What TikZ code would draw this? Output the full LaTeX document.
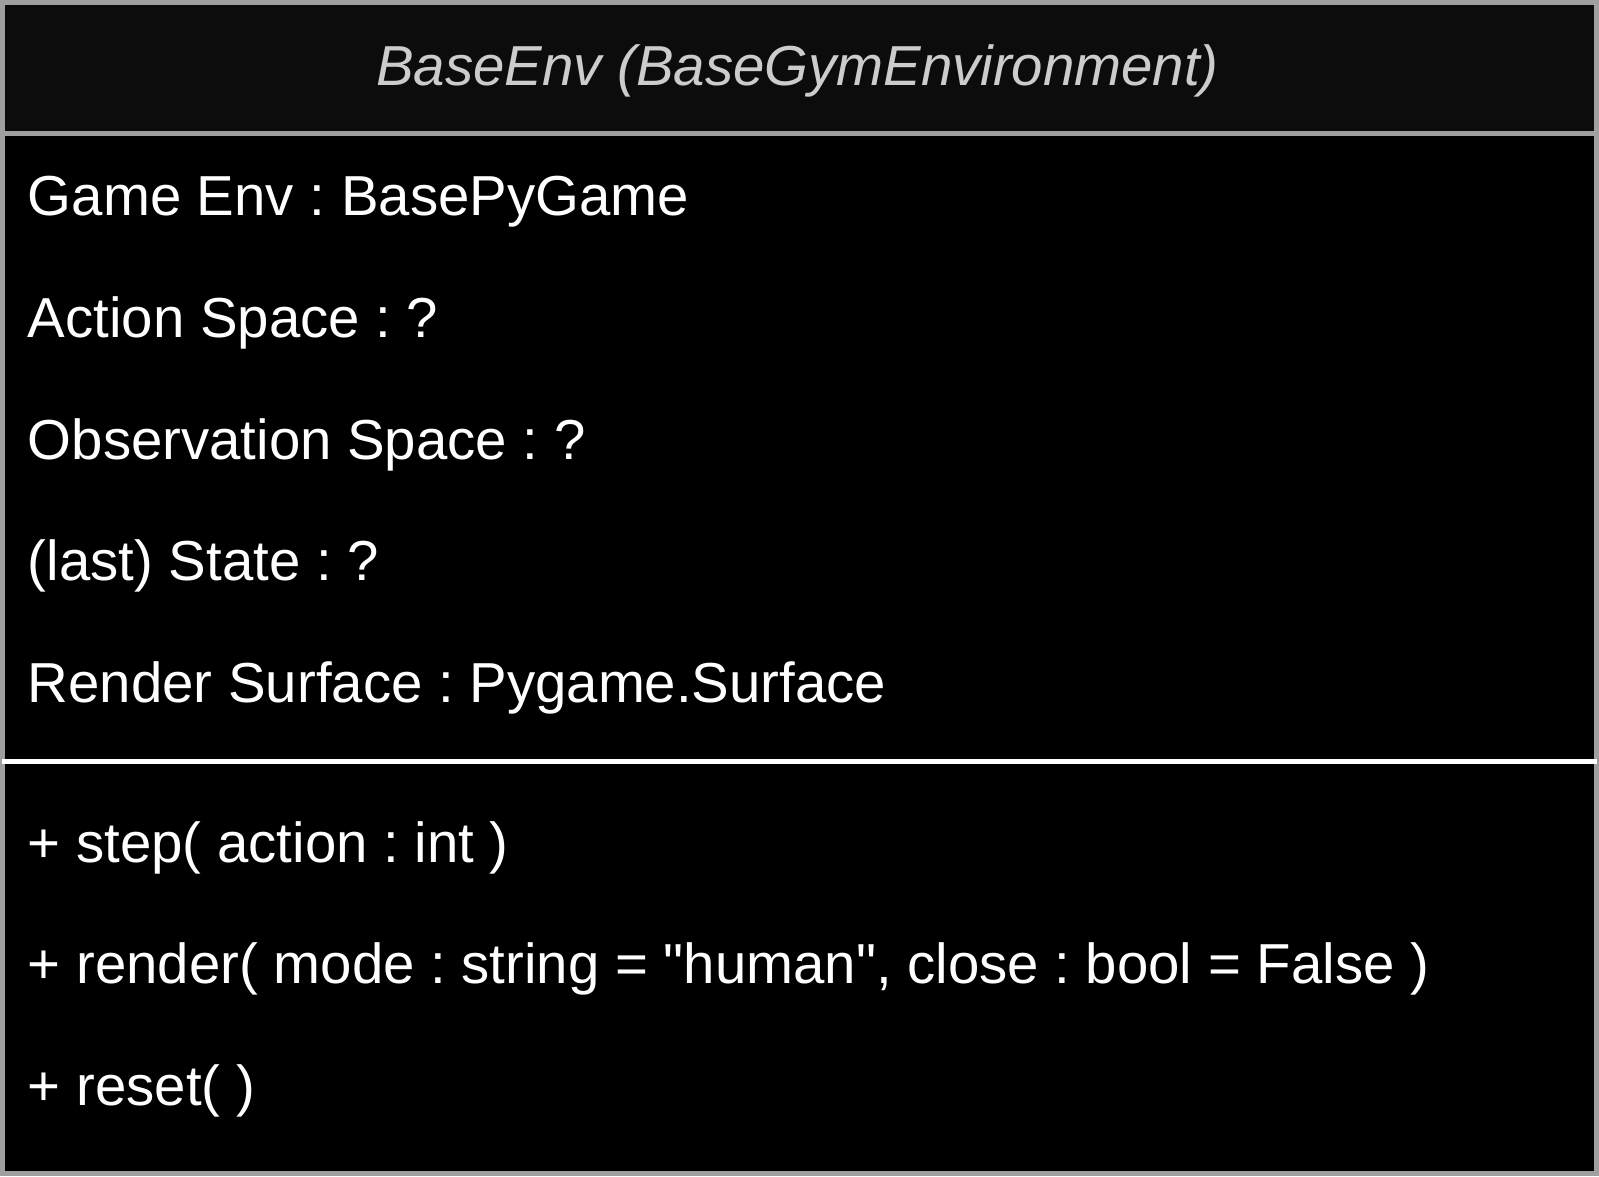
\documentclass[tikz,border=0pt]{standalone}
\usepackage{fontspec}
\setmainfont{Liberation Sans}
\usepackage{tikz}
\definecolor{framegray}{HTML}{9F9F9F}
\definecolor{headblack}{HTML}{0C0C0C}
\definecolor{headtext}{HTML}{CCCCCC}
\frenchspacing

\begin{document}
\begin{tikzpicture}[x=0.5pt,y=-0.5pt,
	member/.style={anchor=base west,inner sep=0pt,text=white,font=\fontsize{28.2}{34}\selectfont},
	classname/.style={anchor=base,inner sep=0pt,text=headtext,font=\fontsize{28.2}{34}\selectfont\itshape}]

	% all coordinates given below are pixels of the 1599 x 1177 picture, y downwards
	
	\fill[black] (0,0) rectangle (1599,1177);
	\fill[headblack] (5,5) rectangle (1594,131);
	
	\draw[framegray,line width=2.5pt] (2.5,2.5) rectangle (1596.5,1174.5);
	\draw[framegray,line width=2.5pt] (5,133.5) -- (1594,133.5); % under the class name
	\draw[white,line width=2.5pt] (2,761.5) -- (1597,761.5); % attributes / operations
	
	\node[classname] (name) at (797.5,86) {BaseEnv (BaseGymEnvironment)};
	
	% attributes
	\foreach \txt [count=\i] in {Game Env : BasePyGame, Action Space : ?, Observation Space : ?, (last) State : ?, Render Surface : Pygame.Surface}
		\node[member] (attr\i) at (27,{216+121.75*(\i-1)}) {\txt};
	
	% operations
	\foreach \txt [count=\i] in {+ step( action : int ), {+ render( mode : string = \textquotedbl human\textquotedbl, close : bool = False )}, + reset( )}
		\node[member] (op\i) at (27,{863+121.5*(\i-1)}) {\txt};

\end{tikzpicture}
\end{document}
